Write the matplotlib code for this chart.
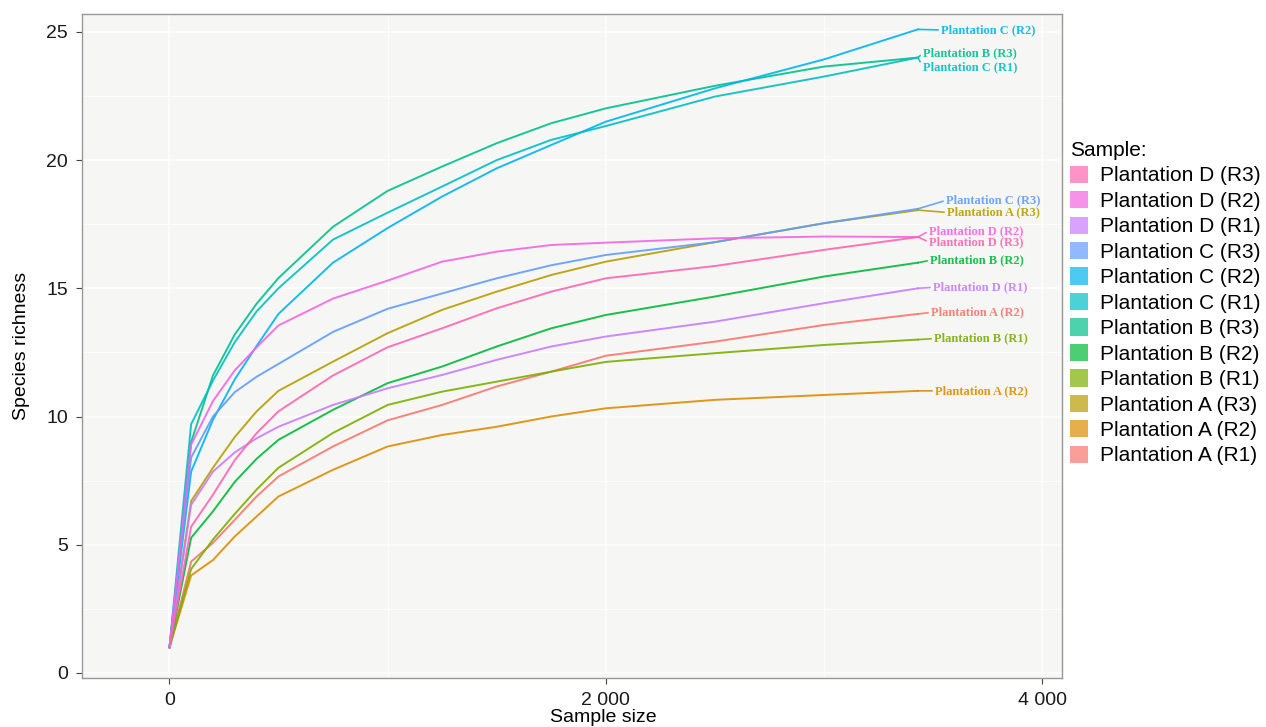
import matplotlib
matplotlib.use("Agg")
import matplotlib.pyplot as plt
from matplotlib.patches import Patch
from matplotlib.ticker import MultipleLocator, FuncFormatter

plt.rcParams['font.family'] = ['Liberation Sans', 'DejaVu Sans']

# rarefaction depth (number of reads sampled)
depth = [1, 100, 200, 300, 400, 500, 750, 1000, 1250, 1500, 1750, 2000, 2500, 3000, 3430]

samples = ["Plantation A (R1)", "Plantation A (R2)", "Plantation A (R3)",
           "Plantation B (R1)", "Plantation B (R2)", "Plantation B (R3)",
           "Plantation C (R1)", "Plantation C (R2)", "Plantation C (R3)",
           "Plantation D (R1)", "Plantation D (R2)", "Plantation D (R3)"]

# species richness per sample at each depth
rich_A1 = [1, 4.34, 5.07, 5.97, 6.88, 7.66, 8.83, 9.85, 10.45, 11.17, 11.75, 12.37, 12.92, 13.57, 14.0]
rich_A2 = [1, 3.80, 4.40, 5.32, 6.10, 6.88, 7.92, 8.83, 9.28, 9.60, 10.0, 10.32, 10.65, 10.84, 11.0]
rich_A3 = [1, 6.70, 8.00, 9.20, 10.2, 11.0, 12.14, 13.25, 14.16, 14.87, 15.52, 16.04, 16.8, 17.54, 18.05]
rich_B1 = [1, 4.05, 5.20, 6.20, 7.15, 8.0, 9.36, 10.45, 10.97, 11.36, 11.75, 12.13, 12.47, 12.79, 13.0]
rich_B2 = [1, 5.27, 6.30, 7.45, 8.35, 9.09, 10.26, 11.3, 11.95, 12.73, 13.44, 13.96, 14.68, 15.46, 16.0]
rich_B3 = [1, 9.00, 11.6, 13.2, 14.4, 15.4, 17.4, 18.8, 19.75, 20.66, 21.44, 22.02, 22.9, 23.65, 24.0]
rich_C1 = [1, 9.70, 11.4, 12.9, 14.1, 15.0, 16.9, 17.95, 18.97, 20.0, 20.79, 21.33, 22.48, 23.26, 24.0]
rich_C2 = [1, 7.85, 9.87, 11.45, 12.75, 14.0, 16.0, 17.35, 18.58, 19.68, 20.59, 21.5, 22.8, 23.93, 25.1]
rich_C3 = [1, 8.40, 10.0, 10.95, 11.55, 12.05, 13.3, 14.2, 14.8, 15.39, 15.9, 16.3, 16.8, 17.54, 18.1]
rich_D1 = [1, 6.55, 7.85, 8.60, 9.15, 9.60, 10.45, 11.1, 11.62, 12.21, 12.73, 13.12, 13.7, 14.42, 15.0]
rich_D2 = [1, 8.90, 10.6, 11.8, 12.7, 13.55, 14.6, 15.3, 16.04, 16.43, 16.69, 16.78, 16.95, 17.02, 17.0]
rich_D3 = [1, 5.70, 6.95, 8.30, 9.35, 10.2, 11.6, 12.7, 13.44, 14.22, 14.87, 15.39, 15.87, 16.5, 17.0]

richness = [rich_A1, rich_A2, rich_A3, rich_B1, rich_B2, rich_B3,
            rich_C1, rich_C2, rich_C3, rich_D1, rich_D2, rich_D3]

# end-of-curve text (the A (R1) curve carries the "A (R2)" tag as printed)
end_labels = ["Plantation A (R2)", "Plantation A (R2)", "Plantation A (R3)",
              "Plantation B (R1)", "Plantation B (R2)", "Plantation B (R3)",
              "Plantation C (R1)", "Plantation C (R2)", "Plantation C (R3)",
              "Plantation D (R1)", "Plantation D (R2)", "Plantation D (R3)"]

colors = ["#F8766D", "#DE8C00", "#B79F00", "#7CAE00", "#00BA38", "#00C08B",
          "#00BFC4", "#00B4F0", "#619CFF", "#C77CFF", "#F564E3", "#FF64B0"]

# label nudges in pixels (dx, dy) so the tags don't collide
nudge = [(13, 1.5), (17, 0), (29, -2.3), (16, 1), (12, 2.3), (5, 4.6),
         (5, -9.4), (23, -0.6), (28, 8.5), (15, 1), (11, 6), (11, -5)]

fig = plt.figure(figsize=(12.66, 7.27), dpi=100)
ax = fig.add_axes([82 / 1266, 1 - 678 / 727, 980 / 1266, 664 / 727])
ax.set_facecolor("#F6F6F4")

for name, y, c, lab, (dx, dy) in zip(samples, richness, colors, end_labels, nudge):
    ax.plot(depth, y, color=c, lw=1.4, alpha=0.9, zorder=3, solid_joinstyle="round")
    ax.annotate(lab, xy=(depth[-1], y[-1]), xytext=(dx, dy), textcoords="offset pixels",
                ha="left", va="center", fontsize=9, fontweight="bold",
                family="Liberation Serif", color=c, alpha=0.9,
                arrowprops=dict(arrowstyle="-", color=c, lw=1.2, alpha=0.9,
                                shrinkA=0, shrinkB=0, relpos=(0, 0.5)))

ax.set_xlim(-400, 4090)
ax.set_ylim(-0.2, 25.7)
ax.xaxis.set_major_locator(MultipleLocator(2000))
ax.xaxis.set_minor_locator(MultipleLocator(1000))
ax.yaxis.set_major_locator(MultipleLocator(5))
ax.yaxis.set_minor_locator(MultipleLocator(2.5))
ax.xaxis.set_major_formatter(FuncFormatter(lambda v, p: f"{int(v):,}".replace(",", " ")))

ax.grid(which="major", color="white", lw=1.1, zorder=0)
ax.grid(which="minor", color="white", lw=0.6, zorder=0)
ax.set_axisbelow(True)
ax.tick_params(which="major", direction="out", length=4, width=0.8, color="#444444",
               labelsize=14, labelcolor="#1a1a1a", pad=6)
ax.tick_params(which="minor", length=0)
for s in ax.spines.values():
    s.set_color("#999999")
    s.set_linewidth(1.0)

ax.set_xlabel("Sample size", fontsize=14)
ax.set_ylabel("Species richness", fontsize=14)
ax.xaxis.set_label_coords(0.532, -0.047)
ax.yaxis.set_label_coords(-0.053, 0.5)

handles = [Patch(facecolor=c, edgecolor="none", alpha=0.7, label=n)
           for n, c in zip(samples, colors)][::-1]
leg = fig.legend(handles=handles, loc="upper left", bbox_to_anchor=(1070 / 1266, 1 - 141 / 727),
                 frameon=False, title="Sample:", alignment="left", fontsize=15,
                 title_fontsize=15, handlelength=0.85, handleheight=0.9,
                 handletextpad=0.6, labelspacing=0.27, borderpad=0, borderaxespad=0)

fig.savefig("out.png", dpi=100)
